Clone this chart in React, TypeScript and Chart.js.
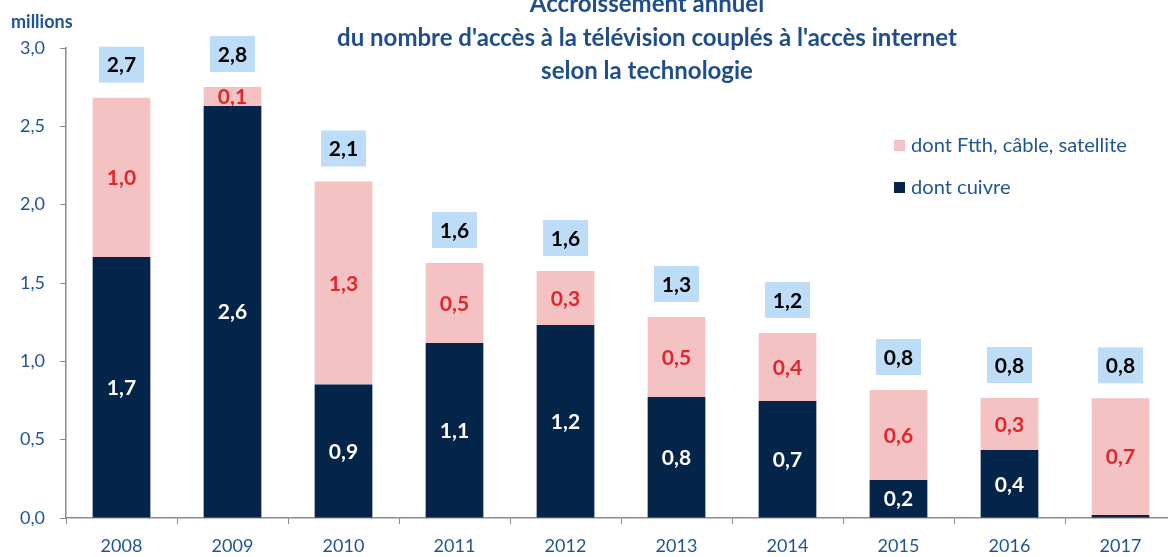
import React, { useEffect, useRef } from "react";
import { Chart, registerables } from "chart.js";

Chart.register(...registerables);

const categories = ["2008", "2009", "2010", "2011", "2012", "2013", "2014", "2015", "2016", "2017"];
const cuivre = [1.666, 2.63, 0.852, 1.117, 1.232, 0.772, 0.747, 0.243, 0.434, 0.019];
const ftth = [1.017, 0.121, 1.296, 0.511, 0.345, 0.511, 0.434, 0.574, 0.332, 0.745];
const yMin = 0;
const yMax = 3;
const yStep = 0.5;
const titleLines = [
  "Accroissement annuel",
  "du nombre d'accès à la télévision couplés à l'accès internet",
  "selon la technologie",
];
const legendLabels = ["dont Ftth, câble, satellite", "dont cuivre"];
const seriesNames = ["dont cuivre", "dont Ftth, câble, satellite"];
const unitLabel = "millions";

const NAVY = "#05244a";
const PINK = "#f4c2c2";
const RED = "#e0262b";
const BOXBLUE = "#bddcf8";
const TEXTBLUE = "#1f5597";
const AXISGRAY = "#8c8c8c";
const FONT = "Lato, 'Open Sans', 'DejaVu Sans', sans-serif";

const fmt = (v: number) => v.toFixed(1).replace(".", ",");

// choose a font size so that the text spans the target width
const fitSize = (ctx: CanvasRenderingContext2D, text: string, weight: string, target: number) => {
  ctx.font = `${weight} 20px ${FONT}`;
  const w = ctx.measureText(text).width;
  return (20 * target) / w;
};

const labelsPlugin = {
  id: "customLabels",
  afterDatasetsDraw(chart: any) {
    const ctx = chart.ctx;
    ctx.save();
    ctx.textAlign = "center";
    ctx.textBaseline = "middle";
    ctx.font = `bold 21px ${FONT}`;
    chart.data.datasets.forEach((ds: any, i: number) => {
      const meta = chart.getDatasetMeta(i);
      meta.data.forEach((bar: any, j: number) => {
        const v = ds.data[j];
        if (v < 0.05) return;
        const p = bar.getProps(["x", "y", "base"], true);
        ctx.fillStyle = i === 0 ? "#ffffff" : RED;
        ctx.fillText(fmt(v), p.x, (p.y + p.base) / 2 + 1);
      });
    });
    // totals
    const topMeta = chart.getDatasetMeta(chart.data.datasets.length - 1);
    topMeta.data.forEach((bar: any, j: number) => {
      const total = chart.data.datasets.reduce((s: number, d: any) => s + d.data[j], 0);
      const p = bar.getProps(["x", "y"], true);
      const cy = p.y - 33;
      const w = 45;
      const h = 36;
      ctx.fillStyle = BOXBLUE;
      ctx.fillRect(p.x - w / 2, cy - h / 2, w, h);
      ctx.fillStyle = "#000000";
      ctx.fillText(fmt(total), p.x, cy + 1);
    });
    ctx.restore();
  },
  afterDraw(chart: any) {
    const ctx = chart.ctx;
    ctx.save();
    // title
    ctx.textAlign = "center";
    ctx.textBaseline = "middle";
    const ts = Math.min(24, fitSize(ctx, titleLines[1], "bold", 650));
    ctx.font = `bold ${ts}px ${FONT}`;
    ctx.fillStyle = "#1f4e8c";
    const ty = [4, 38, 71];
    titleLines.forEach((t, i) => ctx.fillText(t, 647, ty[i]));
    // unit
    ctx.textAlign = "left";
    ctx.fillStyle = TEXTBLUE;
    ctx.font = `bold 18px ${FONT}`;
    ctx.fillText(unitLabel, 11, 22);
    // legend
    const ls = Math.min(21, fitSize(ctx, legendLabels[0], "normal", 216));
    ctx.font = `${ls}px ${FONT}`;
    const colors = [PINK, NAVY];
    const ly = [146, 188];
    legendLabels.forEach((l, i) => {
      ctx.fillStyle = colors[i];
      ctx.fillRect(894, ly[i] - 6, 11, 11);
      ctx.fillStyle = TEXTBLUE;
      ctx.fillText(l, 911, ly[i]);
    });
    ctx.restore();
  },
};

export default function App() {
  const ref = useRef<HTMLCanvasElement | null>(null);
  useEffect(() => {
    if (!ref.current) return;
    const chart = new Chart(ref.current, {
      type: "bar",
      data: {
        labels: categories,
        datasets: [
          {
            label: seriesNames[0],
            data: cuivre,
            backgroundColor: NAVY,
            barPercentage: 0.52,
            categoryPercentage: 1,
          },
          {
            label: seriesNames[1],
            data: ftth,
            backgroundColor: PINK,
            barPercentage: 0.52,
            categoryPercentage: 1,
          },
        ],
      },
      options: {
        responsive: false,
        devicePixelRatio: 1,
        animation: false,
        layout: { padding: { top: 48, right: 4, left: 0, bottom: 0 } },
        plugins: {
          legend: { display: false },
          title: { display: false },
          tooltip: { enabled: false },
        },
        scales: {
          x: {
            stacked: true,
            grid: {
              display: true,
              drawOnChartArea: false,
              drawTicks: true,
              tickLength: 6,
              color: AXISGRAY,
              offset: true,
            },
            border: { display: true, color: AXISGRAY, width: 1.5 },
            ticks: {
              color: TEXTBLUE,
              font: { family: FONT, size: 18 },
              padding: 11,
              maxRotation: 0,
            },
            afterFit: (s: any) => {
              s.height = 39;
            },
          },
          y: {
            stacked: true,
            min: yMin,
            max: yMax,
            grid: {
              display: true,
              drawOnChartArea: false,
              drawTicks: true,
              tickLength: 6,
              color: AXISGRAY,
            },
            border: { display: true, color: AXISGRAY, width: 1.5 },
            ticks: {
              stepSize: yStep,
              color: TEXTBLUE,
              font: { family: FONT, size: 18 },
              padding: 15,
              callback: (v: any) => fmt(Number(v)),
            },
            afterFit: (s: any) => {
              s.width = 66;
            },
          },
        },
      },
      plugins: [labelsPlugin],
    });
    return () => chart.destroy();
  }, []);
  return (
    <div
      style={{
        position: "fixed",
        left: 0,
        top: 0,
        width: 1168,
        height: 557,
        overflow: "hidden",
        background: "#ffffff",
      }}
    >
      <canvas ref={ref} width={1180} height={557} style={{ display: "block" }} />
    </div>
  );
}
